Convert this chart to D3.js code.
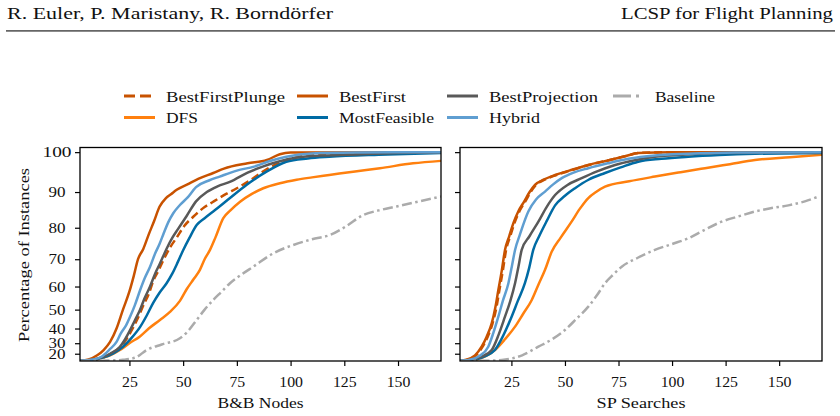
<!DOCTYPE html>
<html>
<head>
<meta charset="utf-8">
<script src="https://cdn.jsdelivr.net/npm/d3@7"></script>
<style>
  body { margin: 0; background: #fff; }
  text { font-family: "Liberation Serif", "DejaVu Serif", serif; fill: #111; }
</style>
</head>
<body>
<div id="chart"></div>
<script>
// ECDF curves: [count, percentage of instances]
const seriesNames = ["BestFirstPlunge", "DFS", "BestFirst", "MostFeasible", "BestProjection", "Hybrid", "Baseline"];
const xTicks = [25, 50, 75, 100, 125, 150];
const yTicks = [20, 30, 40, 50, 60, 70, 80, 90, 100];

// B&B Nodes panel
const nodesBestFirstPlunge = [[2,8],[9,10],[13,15],[17,21],[21.5,28],[24,34],[26.5,40],[29,46],[31.5,52],[34,57],[36,62],[38.5,66],[41,70],[44,74],[47,77],[50.5,80.5],[54.7,83.2],[59,85.5],[64,87.4],[70,89.5],[75,91],[81,93],[87.3,95.3],[93,97],[98,98.1],[105,99],[115,99.5],[140,99.8],[170,100]];
const nodesDFS = [[2,8],[7,10],[11.3,13.5],[16,18],[20.6,24],[25,30],[29.9,35],[34,40],[39.2,44.8],[44,49],[48.5,54],[51.7,59],[55,63],[57.8,66.3],[60,70],[62.5,73.1],[65,77],[68.7,82.8],[72,85],[76.5,87.4],[82,89.5],[87.3,91],[95,92.3],[102.8,93.2],[110,93.8],[118,94.4],[130,95.3],[141.6,96.1],[157,97.3],[170,97.9]];
const nodesBestFirst = [[2,8],[6,11],[10,18],[13,24],[16,31],[19,40],[22,50],[25,58],[27,64],[29,70],[31.5,73.5],[34,78],[36.5,82],[39,86],[42,88.4],[44.5,89.5],[47,90.6],[52,92],[57,93.4],[64,94.9],[69,96],[80,97.3],[89,98.1],[95,99.5],[100,99.9],[170,100]];
const nodesMostFeasible = [[2,8],[8,10],[13,15],[17.5,20.5],[22,27],[26,34],[30,41],[33,47],[36,53],[39,57.5],[42.3,61.3],[45,65],[47.5,69],[50,73],[53,77],[56.3,80.8],[60,82.8],[64,84.7],[71.8,88.4],[79.6,91.9],[89,95.3],[98,97.7],[108,98.5],[118,98.9],[141,99.4],[170,99.8]];
const nodesBestProjection = [[2,8],[8,10],[12,15],[16,20],[20.6,27],[23,33],[25.3,39],[27.5,44.5],[29.9,49.8],[32,55],[34.6,60],[37,65],[39.2,68.5],[42.3,73.5],[45,77],[47.5,79.5],[51.7,83.5],[56,87.5],[61,90],[66,91.5],[72,92.7],[80,95],[87,96.5],[95,97.8],[103,98.7],[115,99.2],[126,99.4],[150,99.8],[170,99.9]];
const nodesHybrid = [[2,8],[8,11],[12,16],[16,25],[19,31],[21,37],[23.5,42],[25.5,47],[27.5,52],[30,58.6],[32,63],[34.6,67.4],[37,72],[39,75],[41,78.4],[43,81.5],[45.4,84.2],[48.5,86.5],[52,88.5],[56,91.3],[62,93],[67,94],[75,95.5],[83,96.5],[90,97.8],[98,98.9],[110,99.7],[130,99.9],[170,100]];
const nodesBaseline = [[2,7.5],[10,8],[17,9],[22,10.5],[28,15],[33,24],[40,29],[48.5,33.7],[52,38],[56.3,44.8],[60,50],[64,54.4],[68,58],[71.8,61.3],[77,64.5],[82.6,67.4],[92,72],[101.3,74.7],[110,76.5],[118.3,77.8],[126,80.5],[133.8,83.7],[141,85],[149.4,86.1],[160,87.5],[170,88.8]];

// SP Searches panel
const spBestFirstPlunge = [[1,8],[4,10],[8.5,18],[11.5,27],[14,35],[16.2,43],[18,51],[19.4,58.6],[21,66],[22.5,73],[24.5,77.5],[26.5,81.5],[28.7,84.7],[31.5,87.5],[34,90],[36.5,91.9],[40.5,93.2],[46,94.4],[52.5,95.5],[61,96.9],[70,98],[78,99],[84.5,99.8],[100,100],[170,100]];
const spDFS = [[1,8],[8,10],[12.5,16],[17.3,24],[22,33],[26.7,41.1],[30.5,48],[34.5,54.4],[37.5,60.5],[40.7,66.3],[43.8,72.5],[48,77],[53.1,81.8],[57,85.5],[60.9,88.4],[64.5,90],[68.7,91.4],[80,92.8],[92,94],[104,95.1],[115.4,96.1],[127,97.1],[138.7,98.1],[155,98.8],[170,99.4]];
const spBestFirst = [[1,8],[3.3,10],[8,18],[11.1,27.1],[13.5,35],[15.8,43],[17.5,51],[18.9,58.6],[20.5,66],[22,73.1],[24,77.5],[26,81.5],[28.2,84.7],[31,87.5],[33.5,90],[36,91.9],[40,93.2],[45.4,94.4],[52,95.5],[60.9,96.9],[70,98],[78,99],[84.2,99.8],[100,100],[170,100]];
const spMostFeasible = [[1,8],[7,10],[12,16],[17.3,24],[21,35],[25.1,46.5],[28,54],[31.3,61.3],[33.3,67],[35.2,73.1],[38,77.5],[41.5,82],[45.4,86.4],[50,89],[54.7,91],[61,93.2],[68.7,94.9],[76,96.3],[84.2,97.7],[95,98.4],[107.6,98.9],[122,99.3],[138.7,99.6],[170,99.8]];
const spBestProjection = [[1,8],[6,10],[11,16],[15.8,24],[19,36],[22,46.5],[24.5,54],[26.7,61.3],[28.3,67.5],[29.8,73.1],[33.5,77.5],[37.6,81.8],[41.5,86],[45.4,89.2],[51,91.8],[57.8,93.6],[65,95.3],[73.4,96.9],[82,98],[92,98.9],[105,99.4],[123.2,99.8],[170,100]];
const spHybrid = [[1,8],[5,10],[10,17],[14.2,27.1],[16.5,37],[18.9,46.5],[21,54],[23.6,61.3],[25.2,67.5],[26.7,73.1],[29,78],[32.9,84.7],[36.5,88],[40.7,90.1],[44.5,92],[48.5,93.6],[54,95],[60.9,96.1],[70,97.3],[79.6,98.4],[92,99.2],[107.6,99.6],[130,99.9],[170,100]];
const spBaseline = [[1,7.5],[12,8],[20.5,10],[30,18],[37.6,27.1],[44,33],[50,39.1],[55,45],[60.9,51.4],[65,56.5],[68.7,61.3],[72.5,64.5],[76.5,67.4],[84,70.5],[92,73.1],[100,75],[107.6,76.8],[115,79.3],[123.2,81.8],[131,83.3],[138.7,84.7],[146,85.6],[154.3,86.4],[162,87.5],[168.3,88.8]];

const nodesSeries = [nodesBestFirstPlunge, nodesDFS, nodesBestFirst, nodesMostFeasible, nodesBestProjection, nodesHybrid, nodesBaseline];
const spSeries = [spBestFirstPlunge, spDFS, spBestFirst, spMostFeasible, spBestProjection, spHybrid, spBaseline];

// tableau-colorblind10 style
const colors = {
  BestFirstPlunge: "#C85200", DFS: "#FF800E", BestFirst: "#C85200", MostFeasible: "#006BA4",
  BestProjection: "#595959", Hybrid: "#5F9ED1", Baseline: "#ABABAB"
};
const dashes = { BestFirstPlunge: "8,4", Baseline: "10,3.5,2.5,3.5" };
const legendDashes = { BestFirstPlunge: "11,5", Baseline: "18,5,3,5" };
// label widths as measured on the reference (its serif face runs wider)
const legendWidths = { BestFirstPlunge: 119, DFS: 32, BestFirst: 67, MostFeasible: 95, BestProjection: 109, Hybrid: 51, Baseline: 60 };

const width = 840, height = 416;
const svg = d3.select("#chart").append("svg")
  .attr("width", width).attr("height", height)
  .attr("viewBox", [0, 0, width, height]);

function fit(sel, w) {
  return sel.attr("textLength", w).attr("lengthAdjust", "spacingAndGlyphs");
}

// header
fit(svg.append("text").attr("x", 7).attr("y", 18.5)
  .style("font-size", "17px").text("R. Euler, P. Maristany, R. Borndörfer"), 326);
fit(svg.append("text").attr("x", 833).attr("y", 18.5).attr("text-anchor", "end")
  .style("font-size", "17px").text("LCSP for Flight Planning"), 212);
svg.append("line").attr("x1", 6).attr("x2", 835).attr("y1", 30.8).attr("y2", 30.8)
  .attr("stroke", "#666").attr("stroke-width", 1.8);

// y scale: squared axis (pow 2)
const plotTop = 147.5, plotBottom = 361;
const y = d3.scalePow().exponent(2).domain([7.3, 101.1]).range([plotBottom, plotTop]);

const panels = [
  { data: nodesSeries, x: d3.scaleLinear().domain([2, 170]).range([80, 441]), label: "B&B Nodes", labelW: 86, yLabels: true },
  { data: spSeries, x: d3.scaleLinear().domain([1, 170]).range([460, 822]), label: "SP Searches", labelW: 89, yLabels: false }
];

panels.forEach((p, pi) => {
  const [x0, x1] = p.x.range();
  const g = svg.append("g");
  const clipId = "clip" + pi;
  g.append("clipPath").attr("id", clipId).append("rect")
    .attr("x", x0).attr("y", plotTop).attr("width", x1 - x0).attr("height", plotBottom - plotTop);

  const line = d3.line().x(d => p.x(d[0])).y(d => y(d[1])).curve(d3.curveMonotoneX);
  const lines = g.append("g").attr("clip-path", `url(#${clipId})`);
  seriesNames.forEach((name, i) => {
    lines.append("path")
      .attr("d", line(p.data[i]))
      .attr("fill", "none")
      .attr("stroke", colors[name])
      .attr("stroke-width", 2.5)
      .attr("stroke-dasharray", dashes[name] || null);
  });

  // x axis
  const xAxis = d3.axisBottom(p.x).tickValues(xTicks).tickSize(5);
  const xg = g.append("g").attr("transform", `translate(0,${plotBottom})`).call(xAxis);
  xg.select(".domain").remove();
  xg.selectAll("line").attr("stroke", "#000").attr("stroke-width", 1.2);
  xg.selectAll("text").attr("y", 25.5).attr("dy", null)
    .style("font-size", "14px").attr("font-family", null).attr("fill", "#111")
    .each(function(d) { fit(d3.select(this), String(d).length * 7.9); });

  // y axis (labels sit centred left of the ticks, as in the reference)
  const yAxis = d3.axisLeft(y).tickValues(yTicks).tickSize(5);
  if (!p.yLabels) yAxis.tickFormat("");
  const yg = g.append("g").attr("transform", `translate(${x0},0)`).call(yAxis);
  yg.select(".domain").remove();
  yg.selectAll("line").attr("stroke", "#000").attr("stroke-width", 1.2);
  if (p.yLabels) {
    yg.selectAll("text").attr("x", -23).attr("text-anchor", "middle")
      .style("font-size", "14px").attr("font-family", null).attr("fill", "#111")
      .each(function(d) { fit(d3.select(this), d === 100 ? 29 : 17); });
  }

  // frame
  g.append("rect").attr("x", x0).attr("y", plotTop).attr("width", x1 - x0).attr("height", plotBottom - plotTop)
    .attr("fill", "none").attr("stroke", "#000").attr("stroke-width", 1.3);

  fit(g.append("text").attr("x", (x0 + x1) / 2).attr("y", 408).attr("text-anchor", "middle")
    .style("font-size", "15px").text(p.label), p.labelW);
});

fit(svg.append("text")
  .attr("transform", "translate(29,255) rotate(-90)")
  .attr("text-anchor", "middle")
  .style("font-size", "15px")
  .text("Percentage of Instances"), 174);

// legend, filled column-wise in 4 columns
const legendCols = [124, 297, 447, 613];
const legendRows = [96, 117.5];
const legend = svg.append("g");
seriesNames.forEach((name, i) => {
  const cx = legendCols[Math.floor(i / 2)], cy = legendRows[i % 2];
  legend.append("line").attr("x1", cx).attr("x2", cx + 31).attr("y1", cy).attr("y2", cy)
    .attr("stroke", colors[name]).attr("stroke-width", 3)
    .attr("stroke-dasharray", legendDashes[name] || null);
  fit(legend.append("text").attr("x", cx + 42).attr("y", cy + 5.5)
    .style("font-size", "15.5px").text(name), legendWidths[name]);
});
</script>
</body>
</html>
